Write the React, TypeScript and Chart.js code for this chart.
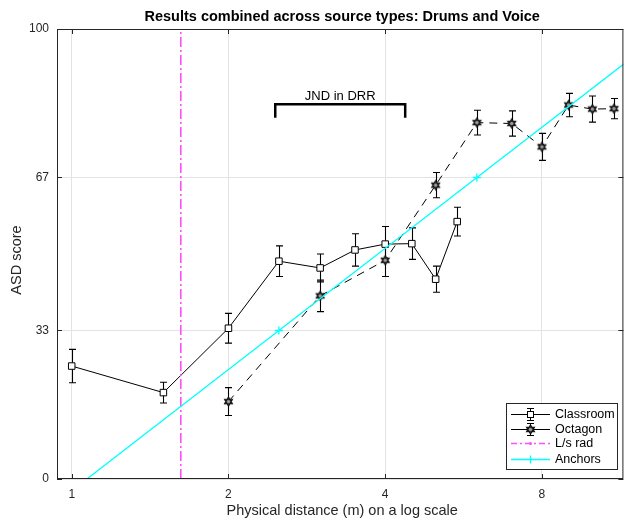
import React, { useEffect, useRef } from 'react';
import { Chart, registerables } from 'chart.js';

Chart.register(...registerables);

const titleText = 'Results combined across source types: Drums and Voice';
const xTitle = 'Physical distance (m) on a log scale';
const yTitle = 'ASD score';
const xTicks = [1, 2, 4, 8];
const yTicks = [0, 33, 67, 100];

const classroomX = [1, 1.5, 2, 2.5, 3, 3.5, 4, 4.5, 5, 5.5];
const classroomY = [25.1, 19.2, 33.5, 48.4, 46.9, 50.9, 52.2, 52.3, 44.4, 57.2];
const classroomErr = [3.7, 2.3, 3.3, 3.4, 3.1, 3.6, 3.9, 3.5, 2.9, 3.2];

const octagonX = [2, 3, 4, 5, 6, 7, 8, 9, 10, 11];
const octagonY = [17.2, 40.7, 48.6, 65.3, 79.2, 79.0, 73.8, 83.1, 82.2, 82.3];
const octagonErr = [3.1, 3.5, 3.6, 2.8, 2.75, 2.8, 3.0, 2.6, 2.9, 2.25];

const lsRadX = [1.62, 1.62];
const lsRadY = [0, 100];

const anchorsX = [0.9, 2.5, 6, 12];
const anchorsY = [-6.7, 33, 67, 93.9];
const anchorsMarker = [0, 4, 4, 0];

const jndX = [2.46, 2.46, 4.37, 4.37];
const jndY = [80.3, 83.3, 83.3, 80.3];
const jndLabel = 'JND in DRR';

const legendLabels = ['Classroom', 'Octagon', 'L/s rad', 'Anchors'];

const FONT = "'Liberation Sans', Arial, Helvetica, sans-serif";
const AXIS_COLOR = '#262626';
const CYAN = '#00ffff';
const MAGENTA = '#ff4dff';

function hexagramPath(ctx: CanvasRenderingContext2D, cx: number, cy: number, r: number) {
  ctx.beginPath();
  for (let t = 0; t < 2; t++) {
    const base = t === 0 ? -90 : 90;
    for (let k = 0; k < 3; k++) {
      const a = ((base + k * 120) * Math.PI) / 180;
      const px = cx + r * Math.cos(a);
      const py = cy + r * Math.sin(a);
      if (k === 0) ctx.moveTo(px, py);
      else ctx.lineTo(px, py);
    }
    ctx.closePath();
  }
}

function makeHexagram(r: number) {
  const s = Math.ceil(r * 2 + 4);
  const c = document.createElement('canvas');
  c.width = s;
  c.height = s;
  const ctx = c.getContext('2d')!;
  ctx.strokeStyle = '#111';
  ctx.fillStyle = '#9a9a9a';
  ctx.lineWidth = 1.2;
  hexagramPath(ctx, s / 2, s / 2, r);
  ctx.fill();
  ctx.stroke();
  return c;
}

function pts(xs: number[], ys: number[]) {
  return xs.map((x, i) => ({ x, y: ys[i] }));
}

export default function App() {
  const ref = useRef<HTMLCanvasElement | null>(null);

  useEffect(() => {
    if (!ref.current) return;
    const hex = makeHexagram(4.5);

    const errorBars = {
      id: 'errorBars',
      beforeDatasetsDraw(chart: any) {
        const { ctx, chartArea, scales } = chart;
        const xs = scales.x;
        const ys = scales.y;
        ctx.save();
        ctx.beginPath();
        ctx.rect(chartArea.left, chartArea.top, chartArea.right - chartArea.left, chartArea.bottom - chartArea.top);
        ctx.clip();
        ctx.strokeStyle = '#000';
        ctx.lineWidth = 1.1;
        const draw = (X: number[], Y: number[], E: number[]) => {
          X.forEach((x, i) => {
            const px = Math.round(xs.getPixelForValue(x)) + 0.5;
            const top = ys.getPixelForValue(Y[i] + E[i]);
            const bot = ys.getPixelForValue(Y[i] - E[i]);
            ctx.beginPath();
            ctx.moveTo(px, top);
            ctx.lineTo(px, bot);
            ctx.moveTo(px - 3.5, top);
            ctx.lineTo(px + 3.5, top);
            ctx.moveTo(px - 3.5, bot);
            ctx.lineTo(px + 3.5, bot);
            ctx.stroke();
          });
        };
        draw(classroomX, classroomY, classroomErr);
        draw(octagonX, octagonY, octagonErr);
        ctx.restore();
      },
    };

    const decorations = {
      id: 'decorations',
      afterDraw(chart: any) {
        const { ctx, chartArea, scales } = chart;
        const xs = scales.x;
        const ys = scales.y;
        const { left, right, top, bottom } = chartArea;
        ctx.save();
        // frame
        ctx.strokeStyle = AXIS_COLOR;
        ctx.lineWidth = 1;
        ctx.strokeRect(left + 0.5, top + 0.5, right - left - 1, bottom - top - 1);
        // inner ticks
        ctx.beginPath();
        xTicks.forEach((v) => {
          const px = Math.round(xs.getPixelForValue(v)) + 0.5;
          ctx.moveTo(px, bottom);
          ctx.lineTo(px, bottom - 5);
          ctx.moveTo(px, top);
          ctx.lineTo(px, top + 5);
        });
        yTicks.forEach((v) => {
          const py = Math.round(ys.getPixelForValue(v)) + 0.5;
          ctx.moveTo(left, py);
          ctx.lineTo(left + 5, py);
          ctx.moveTo(right, py);
          ctx.lineTo(right - 5, py);
        });
        ctx.stroke();

        const cx = (left + right) / 2 + 2;

        // title
        ctx.fillStyle = '#000';
        ctx.textAlign = 'center';
        ctx.textBaseline = 'middle';
        ctx.font = `bold 14.5px ${FONT}`;
        ctx.fillText(titleText, cx, 17);

        // axis titles
        ctx.fillStyle = AXIS_COLOR;
        ctx.font = `14.5px ${FONT}`;
        ctx.fillText(xTitle, cx, 511);
        ctx.save();
        ctx.translate(17, (top + bottom) / 2 + 6);
        ctx.rotate(-Math.PI / 2);
        ctx.fillText(yTitle, 0, 0);
        ctx.restore();

        // JND label
        ctx.fillStyle = '#000';
        ctx.font = `13px ${FONT}`;
        const jx = (xs.getPixelForValue(jndX[0]) + xs.getPixelForValue(jndX[2])) / 2;
        ctx.fillText(jndLabel, jx, ys.getPixelForValue(jndY[1]) - 8);

        // legend
        const bw = 111;
        const bh = 66;
        const bx = Math.round(right - 6 - bw);
        const by = Math.round(bottom - 10 - bh);
        ctx.fillStyle = '#fff';
        ctx.fillRect(bx, by, bw, bh);
        ctx.strokeStyle = AXIS_COLOR;
        ctx.lineWidth = 1;
        ctx.strokeRect(bx + 0.5, by + 0.5, bw, bh);
        const rowsY = [by + 11, by + 25.5, by + 40, by + 56];
        const lx0 = bx + 5;
        const lx1 = bx + 44;
        const mx = bx + 24.5;
        ctx.font = `12.5px ${FONT}`;
        ctx.textAlign = 'left';
        ctx.textBaseline = 'middle';
        legendLabels.forEach((lab, i) => {
          const ry = Math.round(rowsY[i]) + 0.5;
          ctx.save();
          ctx.lineWidth = 1;
          if (i === 0 || i === 1) {
            ctx.strokeStyle = '#000';
            ctx.beginPath();
            ctx.moveTo(lx0, ry);
            ctx.lineTo(lx1, ry);
            ctx.moveTo(mx, ry - 6);
            ctx.lineTo(mx, ry + 6);
            ctx.moveTo(mx - 3.5, ry - 6);
            ctx.lineTo(mx + 3.5, ry - 6);
            ctx.moveTo(mx - 3.5, ry + 6);
            ctx.lineTo(mx + 3.5, ry + 6);
            ctx.stroke();
            if (i === 0) {
              ctx.fillStyle = '#fff';
              ctx.fillRect(mx - 3, ry - 3, 6, 6);
              ctx.strokeRect(mx - 3, ry - 3, 6, 6);
            } else {
              ctx.drawImage(hex, mx - hex.width / 2, ry - hex.height / 2);
            }
          } else if (i === 2) {
            ctx.strokeStyle = MAGENTA;
            ctx.lineWidth = 1.5;
            ctx.setLineDash([6, 3, 2, 3]);
            ctx.beginPath();
            ctx.moveTo(lx0, ry);
            ctx.lineTo(lx1, ry);
            ctx.stroke();
            ctx.setLineDash([]);
            ctx.fillStyle = MAGENTA;
            ctx.beginPath();
            ctx.arc(mx, ry, 1.5, 0, Math.PI * 2);
            ctx.fill();
          } else {
            ctx.strokeStyle = CYAN;
            ctx.lineWidth = 1.3;
            ctx.beginPath();
            ctx.moveTo(lx0, ry);
            ctx.lineTo(lx1, ry);
            ctx.moveTo(mx, ry - 4);
            ctx.lineTo(mx, ry + 4);
            ctx.stroke();
          }
          ctx.restore();
          ctx.fillStyle = '#000';
          ctx.fillText(lab, bx + 49, ry);
        });
        ctx.restore();
      },
    };

    const chart = new Chart(ref.current, {
      type: 'scatter',
      data: {
        datasets: [
          {
            label: legendLabels[0],
            data: pts(classroomX, classroomY),
            showLine: true,
            borderColor: '#000',
            borderWidth: 1,
            pointStyle: 'rect',
            pointRadius: 4.6,
            pointBackgroundColor: '#fff',
            pointBorderColor: '#000',
            pointBorderWidth: 1,
            order: 3,
          },
          {
            label: legendLabels[1],
            data: pts(octagonX, octagonY),
            showLine: true,
            borderColor: '#000',
            borderWidth: 1,
            borderDash: [8, 6],
            pointStyle: hex as any,
            pointRadius: 4,
            order: 2,
          },
          {
            label: legendLabels[2],
            data: pts(lsRadX, lsRadY),
            showLine: true,
            borderColor: MAGENTA,
            borderWidth: 1.6,
            borderDash: [10, 3, 2, 3],
            pointRadius: 0,
            order: 1,
          },
          {
            label: legendLabels[3],
            data: pts(anchorsX, anchorsY),
            showLine: true,
            borderColor: CYAN,
            borderWidth: 1.3,
            pointStyle: 'cross',
            pointRadius: anchorsMarker,
            pointBorderColor: CYAN,
            pointBorderWidth: 1.3,
            order: 0,
          },
          {
            label: 'JND',
            data: pts(jndX, jndY),
            showLine: true,
            borderColor: '#000',
            borderWidth: 2.5,
            pointRadius: 0,
            order: 4,
          },
        ],
      },
      options: {
        animation: false,
        responsive: false,
        maintainAspectRatio: false,
        events: [],
        layout: { padding: { left: 0, top: 29, right: 2, bottom: 0 } },
        plugins: {
          legend: { display: false },
          title: { display: false },
          tooltip: { enabled: false },
        },
        scales: {
          x: {
            type: 'logarithmic',
            bounds: 'data',
            min: 0.937,
            max: 11.47,
            afterBuildTicks: (s: any) => {
              s.ticks = xTicks.map((v) => ({ value: v }));
            },
            afterFit: (s: any) => {
              s.height = 41;
              s.paddingLeft = 0;
              s.paddingRight = 0;
              s.paddingTop = 0;
              s.paddingBottom = 0;
            },
            ticks: {
              autoSkip: false,
              maxRotation: 0,
              padding: 8,
              color: AXIS_COLOR,
              font: { family: FONT, size: 12 },
              callback: (v: any) => String(v),
            },
            grid: { color: '#e3e3e3', drawTicks: false, lineWidth: 1 },
            border: { display: false },
          },
          y: {
            type: 'linear',
            min: 0,
            max: 100,
            afterBuildTicks: (s: any) => {
              s.ticks = yTicks.map((v) => ({ value: v }));
            },
            afterFit: (s: any) => {
              s.width = 57;
              s.paddingLeft = 0;
              s.paddingRight = 0;
              s.paddingTop = 0;
              s.paddingBottom = 0;
            },
            ticks: {
              autoSkip: false,
              padding: 8,
              color: AXIS_COLOR,
              font: { family: FONT, size: 12 },
              callback: (v: any) => String(v),
            },
            grid: { color: '#e3e3e3', drawTicks: false, lineWidth: 1 },
            border: { display: false },
          },
        },
      },
      plugins: [errorBars, decorations],
    });
    return () => chart.destroy();
  }, []);

  return (
    <div
      style={{
        position: 'fixed',
        left: 0,
        top: 0,
        width: 625,
        height: 520,
        overflow: 'hidden',
        background: '#fff',
      }}
    >
      <canvas ref={ref} width={629} height={520} style={{ width: 629, height: 520, display: 'block' }} />
    </div>
  );
}
